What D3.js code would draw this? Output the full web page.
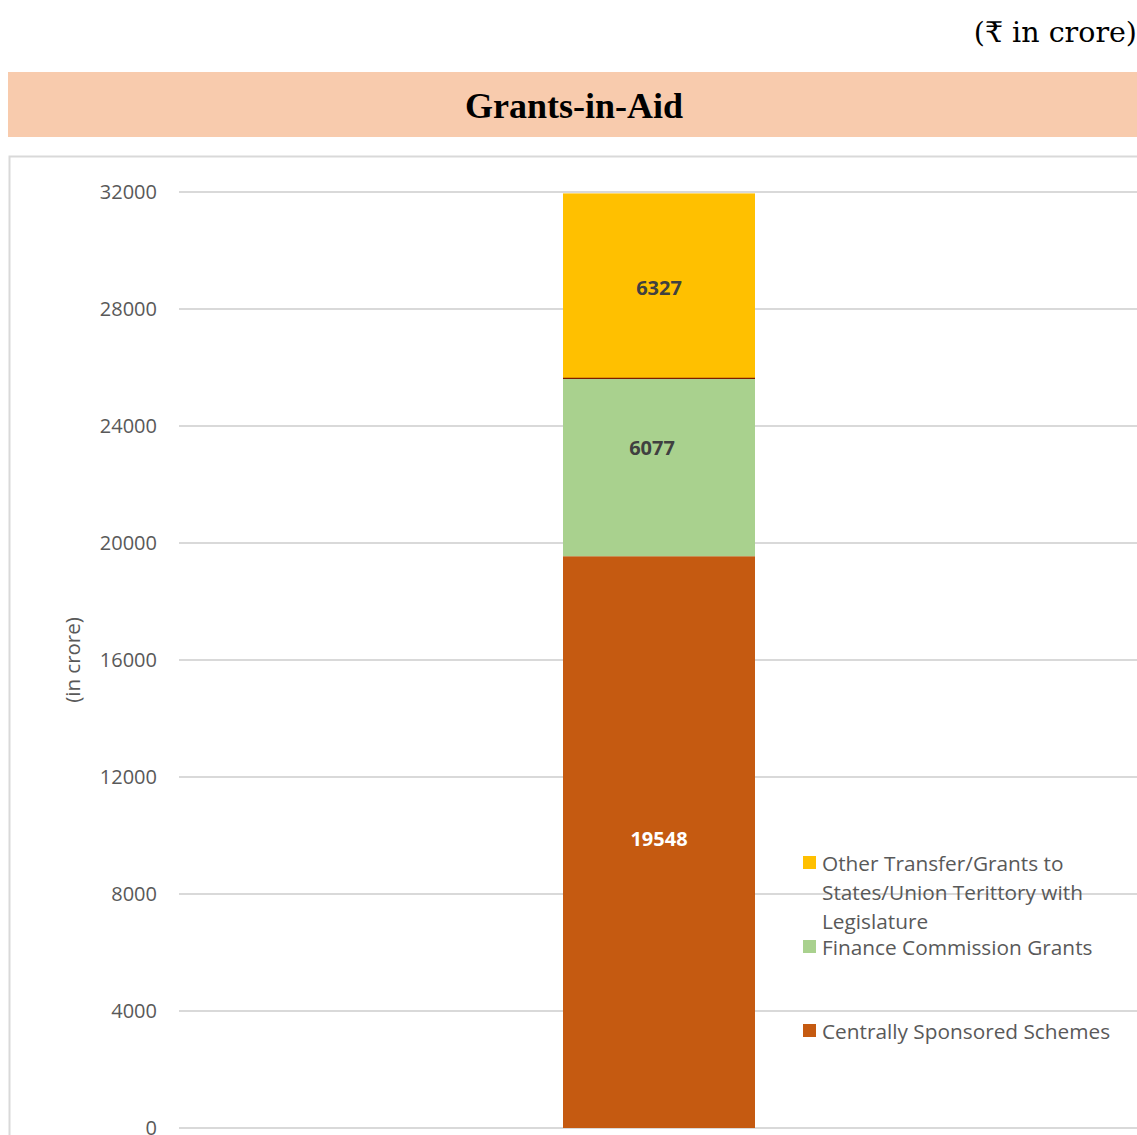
<!DOCTYPE html>
<html>
<head>
<meta charset="utf-8">
<script src="https://cdn.jsdelivr.net/npm/d3@7"></script>
<style>
  body { margin: 0; background: #fff; }
  svg text { font-family: "Open Sans", "Noto Sans", sans-serif; }
</style>
</head>
<body>
<div id="chart"></div>
<script>
// data
var seriesNames = ["Centrally Sponsored Schemes", "Finance Commission Grants", "Other Transfer/Grants to States/Union Terittory with Legislature"];
var seriesValues = [19548, 6077, 6327];
var seriesColors = ["#C55A11", "#A9D18E", "#FFC000"];
var labelColors = ["#ffffff", "#404040", "#404040"];
var yTicks = [0, 4000, 8000, 12000, 16000, 20000, 24000, 28000, 32000];

var width = 1137, height = 1135;
var svg = d3.select("#chart").append("svg")
    .attr("width", width)
    .attr("height", height);

// unit note top right
svg.append("text")
    .attr("x", 1137)
    .attr("y", 42)
    .attr("text-anchor", "end")
    .style("font-family", "'DejaVu Serif', 'Liberation Serif', serif")
    .style("font-size", "28.5px")
    .attr("fill", "#000")
    .text("(₹ in crore)");

// title band
svg.append("rect")
    .attr("x", 8).attr("y", 72)
    .attr("width", width - 8).attr("height", 65)
    .attr("fill", "#F8CBAD");
svg.append("text")
    .attr("x", 574)
    .attr("y", 118)
    .attr("text-anchor", "middle")
    .style("font-family", "'Liberation Serif', 'Times New Roman', serif")
    .style("font-weight", "bold")
    .style("font-size", "36px")
    .attr("fill", "#000")
    .text("Grants-in-Aid");

// chart area border
svg.append("rect")
    .attr("x", 9.5).attr("y", 156.5)
    .attr("width", width).attr("height", height)
    .attr("fill", "none")
    .attr("stroke", "#d9d9d9")
    .attr("stroke-width", 2);

var plot = { left: 179, right: 1137, top: 192, bottom: 1128 };

var y = d3.scaleLinear()
    .domain([0, 32000])
    .range([plot.bottom, plot.top]);

var x = d3.scaleBand()
    .domain(["Grants-in-Aid"])
    .range([plot.left, plot.right + 2])
    .paddingInner(0.6)
    .paddingOuter(0.8);

// gridlines
svg.selectAll(".grid").data(yTicks).enter()
    .append("line")
    .attr("class", "grid")
    .attr("x1", plot.left).attr("x2", plot.right)
    .attr("y1", function (d) { return y(d); })
    .attr("y2", function (d) { return y(d); })
    .attr("stroke", "#d9d9d9")
    .attr("stroke-width", 2);

// y tick labels
svg.selectAll(".ytick").data(yTicks).enter()
    .append("text")
    .attr("class", "ytick")
    .attr("x", 157)
    .attr("y", function (d) { return y(d) + 7; })
    .attr("text-anchor", "end")
    .style("font-size", "20px")
    .attr("fill", "#595959")
    .text(function (d) { return d; });

// axis title
svg.append("text")
    .attr("transform", "translate(80," + 660 + ") rotate(-90)")
    .attr("text-anchor", "middle")
    .style("font-size", "20.5px")
    .attr("fill", "#595959")
    .text("(in crore)");

// stacked segments
var stack = [];
var cum = 0;
seriesValues.forEach(function (v, i) {
    stack.push({ name: seriesNames[i], value: v, y0: cum, y1: cum + v, color: seriesColors[i], label: labelColors[i] });
    cum += v;
});

var bx = x("Grants-in-Aid"), bw = x.bandwidth();

svg.selectAll(".seg").data(stack).enter()
    .append("rect")
    .attr("class", "seg")
    .attr("x", bx)
    .attr("width", bw)
    .attr("y", function (d) { return y(d.y1); })
    .attr("height", function (d) { return y(d.y0) - y(d.y1); })
    .attr("fill", function (d) { return d.color; });

// thin dark line between green and yellow
svg.append("line")
    .attr("x1", bx).attr("x2", bx + bw)
    .attr("y1", y(stack[2].y0)).attr("y2", y(stack[2].y0))
    .attr("stroke", "#7f1d00")
    .attr("stroke-width", 1.2);

// labels (the middle one sits a little up and left, as in the original)
var labelShift = [[0, -3], [-7, -19], [0, 2]];
svg.selectAll(".vlabel").data(stack).enter()
    .append("text")
    .attr("class", "vlabel")
    .attr("x", function (d, i) { return bx + bw / 2 + labelShift[i][0]; })
    .attr("y", function (d, i) { return y((d.y0 + d.y1) / 2) + 7 + labelShift[i][1]; })
    .attr("text-anchor", "middle")
    .style("font-size", "20px")
    .style("font-weight", "bold")
    .attr("fill", function (d) { return d.label; })
    .text(function (d) { return d.value; });

// legend
var legendItems = [
    { color: seriesColors[2], lines: ["Other Transfer/Grants to", "States/Union Terittory with", "Legislature"], y: 863 },
    { color: seriesColors[1], lines: ["Finance Commission Grants"], y: 947 },
    { color: seriesColors[0], lines: ["Centrally Sponsored Schemes"], y: 1031 }
];
var lg = svg.selectAll(".legend").data(legendItems).enter()
    .append("g")
    .attr("class", "legend")
    .attr("transform", function (d) { return "translate(803," + d.y + ")"; });
lg.append("rect")
    .attr("x", 0).attr("y", -7)
    .attr("width", 13).attr("height", 13)
    .attr("fill", function (d) { return d.color; });
lg.each(function (d) {
    var t = d3.select(this).append("text")
        .attr("x", 19)
        .attr("y", 8)
        .style("font-size", "20.8px")
        .attr("fill", "#595959");
    d.lines.forEach(function (line, i) {
        t.append("tspan")
            .attr("x", 19)
            .attr("dy", i == 0 ? 0 : 29)
            .text(line);
    });
});
</script>
</body>
</html>
